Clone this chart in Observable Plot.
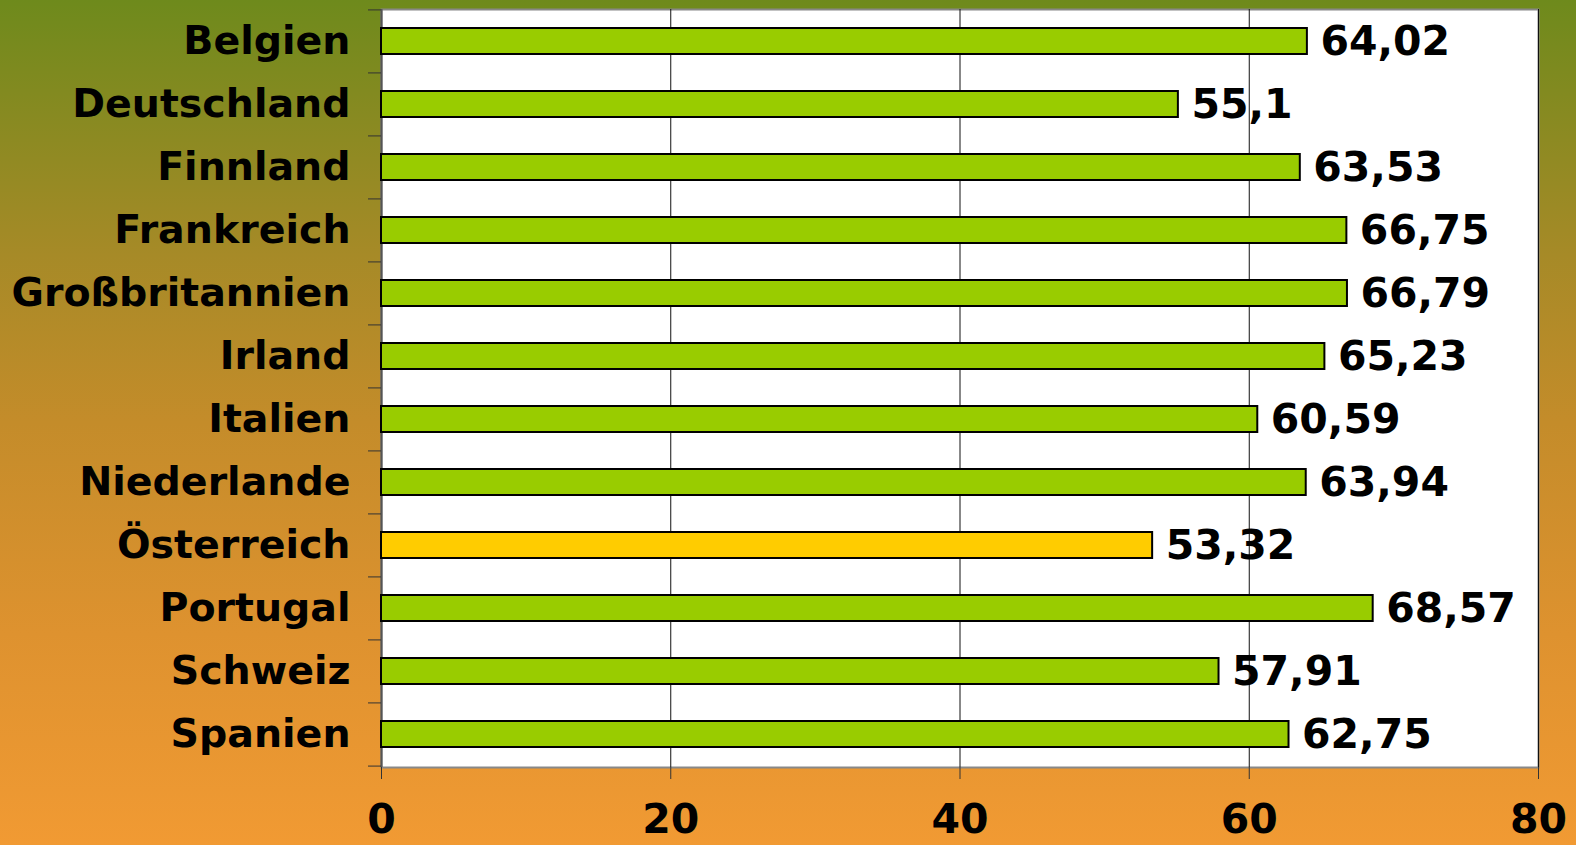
<!DOCTYPE html>
<html>
<head>
<meta charset="utf-8">
<script src="https://cdn.jsdelivr.net/npm/d3@7"></script>
<script src="https://cdn.jsdelivr.net/npm/@observablehq/plot@0.6"></script>
<style>
  html, body { margin: 0; padding: 0; }
  body {
    width: 1576px; height: 845px; overflow: hidden;
    background: linear-gradient(to bottom, #6E8A1C 0%, #A68A27 30%, #C48C2A 50%, #DE922F 75%, #F19A33 100%);
  }
  #chart svg { display: block; background: transparent; }
</style>
</head>
<body>
<div id="chart"></div>
<script>
const countries = ["Belgien","Deutschland","Finnland","Frankreich","Großbritannien","Irland","Italien","Niederlande","Österreich","Portugal","Schweiz","Spanien"];
const values = [64.02, 55.1, 63.53, 66.75, 66.79, 65.23, 60.59, 63.94, 53.32, 68.57, 57.91, 62.75];
const highlight = "Österreich";
const xTicks = [0, 20, 40, 60, 80];

const data = countries.map((c, i) => ({country: c, value: values[i]}));
const fmt = v => String(v).replace(".", ",");

const W = 1576, H = 845;
const mTop = 9, mBottom = 78, mLeft = 381, mRight = 38;
const step = (H - mTop - mBottom) / countries.length;
const font = "'DejaVu Sans', Verdana, sans-serif";

const chart = Plot.plot({
  width: W,
  height: H,
  marginTop: mTop,
  marginBottom: mBottom,
  marginLeft: mLeft,
  marginRight: mRight,
  style: {fontFamily: font, fontWeight: "bold", fontSize: "40px", color: "black", background: "transparent"},
  x: {domain: [0, 80], ticks: xTicks},
  y: {domain: countries, paddingInner: 0.58, paddingOuter: 0.29, label: null},
  marks: [
    Plot.frame({fill: "white", stroke: "#888", strokeWidth: 2}),
    Plot.gridX(xTicks, {stroke: "#111", strokeOpacity: 1, strokeWidth: 1}),
    Plot.ruleX([0], {stroke: "#555", strokeWidth: 2}),
    Plot.barX(data, {
      x: "value", y: "country",
      fill: d => d.country === highlight ? "#FFCC00" : "#99CC00",
      stroke: "black", strokeWidth: 2
    }),
    Plot.text(data, {
      x: "value", y: "country", text: d => fmt(d.value),
      textAnchor: "start", dx: 13, fontSize: 41, fontWeight: "bold", fill: "black"
    }),
    Plot.axisY({tickSize: 0, tickPadding: 31, fontSize: 39.5, fontWeight: "bold", label: null}),
    Plot.axisY(countries, {tickSize: 13, tickPadding: 0, tickFormat: () => "", dy: -step / 2, stroke: "#333", label: null}),
    Plot.axisY(countries.slice(-1), {tickSize: 13, tickPadding: 0, tickFormat: () => "", dy: step / 2, stroke: "#333", label: null}),
    Plot.axisX(xTicks, {tickSize: 12, tickPadding: 24, fontSize: 41, fontWeight: "bold", stroke: "#333", label: null})
  ]
});
document.getElementById("chart").append(chart);
</script>
</body>
</html>
